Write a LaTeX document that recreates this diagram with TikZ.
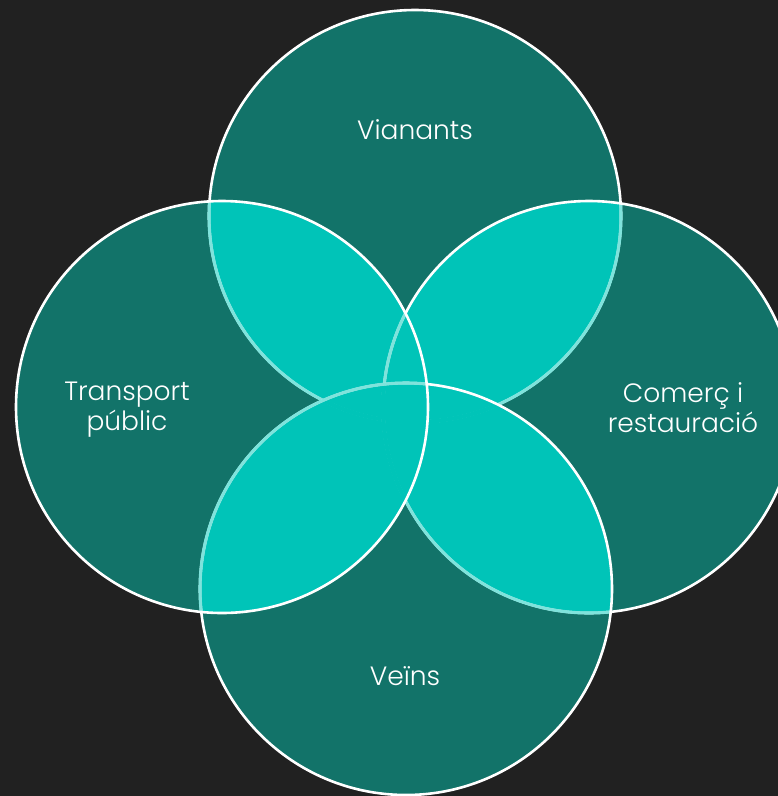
\documentclass[tikz,border=0pt]{standalone}
\usepackage{fontspec}
\setmainfont{Poppins}[UprightFont=* Light]
\definecolor{bgc}{HTML}{212121}
\definecolor{tealc}{HTML}{127369}
\definecolor{cyanc}{HTML}{00C4B8}
\definecolor{lightc}{HTML}{7FE3DC}
\tikzset{
  rim/.style={line width=2.6pt},
  rimlight/.style={line width=3.1pt, draw=lightc},
  rimhide/.style={line width=4.2pt, draw=cyanc},
  lbl/.style={text=white, font=\fontsize{26.5}{30}\selectfont, align=center, inner sep=0pt}
}
\newcommand{\rr}{206}
\begin{document}
\begin{tikzpicture}[x=1pt,y=-1pt]
\useasboundingbox (0,0) rectangle (778,796);
\clip (0,0) rectangle (778,796);
\fill[bgc] (0,0) rectangle (778,796);
\coordinate (T) at (415,216);
\coordinate (R) at (589,407);
\coordinate (B) at (406,589);
\coordinate (L) at (222,407);
% fills
\foreach \c in {T,R,B,L} {\fill[tealc] (\c) circle (\rr);}
% pairwise overlaps
\foreach \a/\b in {T/R,T/B,T/L,R/B,R/L,B/L} {
  \begin{scope}
    \clip (\a) circle (\rr);
    \fill[cyanc] (\b) circle (\rr);
  \end{scope}
}
% outlines: order T, R, B, L
% T
\draw[rim,white] (T) circle (\rr);
\foreach \j in {R,B,L} {\begin{scope}\clip (\j) circle (\rr); \draw[rimlight] (T) circle (\rr);\end{scope}}
\foreach \j/\k in {R/B,R/L,B/L} {\begin{scope}\clip (\j) circle (\rr); \clip (\k) circle (\rr); \draw[rimhide] (T) circle (\rr);\end{scope}}
% R
\draw[rim,white] (R) circle (\rr);
\foreach \j in {B,L} {\begin{scope}\clip (\j) circle (\rr); \draw[rimlight] (R) circle (\rr);\end{scope}}
\begin{scope}\clip (B) circle (\rr); \clip (L) circle (\rr); \draw[rimhide] (R) circle (\rr);\end{scope}
% B
\draw[rim,white] (B) circle (\rr);
\begin{scope}\clip (L) circle (\rr); \draw[rimlight] (B) circle (\rr);\end{scope}
% L
\draw[rim,white] (L) circle (\rr);
% labels
\node[lbl] (vianants) at (415,130) {Vianants};
\node[lbl] (transport) at (127,410) {Transport\\públic};
\node[lbl] (comerc) at (683,408) {Comerç i\\restauració};
\node[lbl] (veins) at (405,676) {Veïns};
\end{tikzpicture}
\end{document}
